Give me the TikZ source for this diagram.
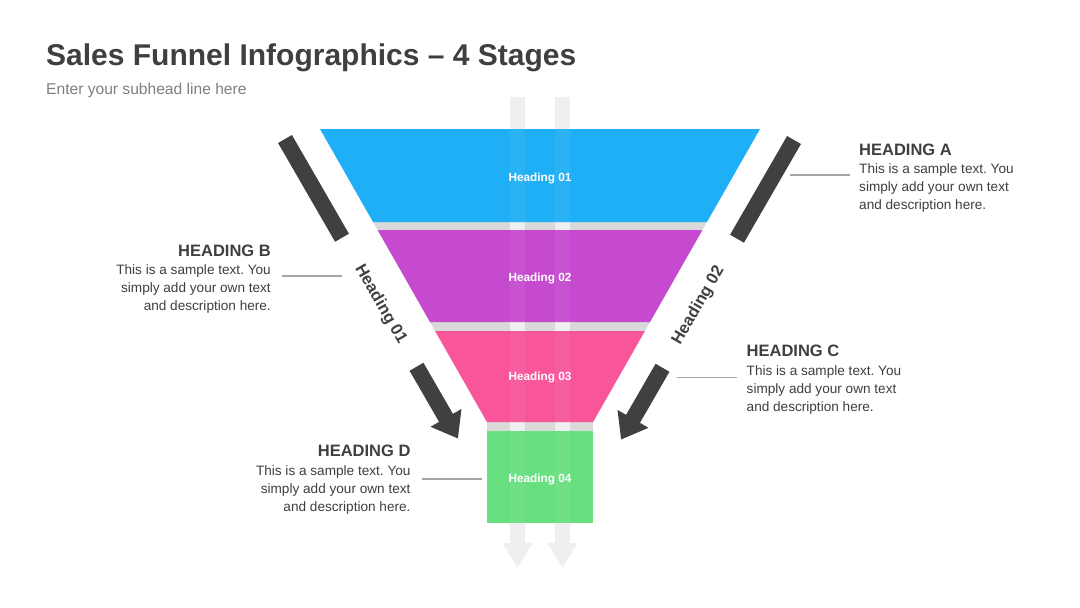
\documentclass[tikz,border=0pt]{standalone}
\usepackage{fontspec}
\setmainfont{Liberation Sans}
\usetikzlibrary{positioning,calc,arrows.meta}
\frenchspacing

\definecolor{stageone}{HTML}{1FAFF6}
\definecolor{stagetwo}{HTML}{C64ACF}
\definecolor{stagethree}{HTML}{F8559A}
\definecolor{stagefour}{HTML}{69E080}
\definecolor{gapgray}{HTML}{D9D9D9}
\definecolor{pipegray}{HTML}{EFEFEF}
\definecolor{darkbar}{HTML}{404040}
\definecolor{darktxt}{HTML}{3F3F3F}
\definecolor{subgray}{HTML}{7F7F7F}
\definecolor{guidegray}{HTML}{A6A6A6}

\begin{document}
\begin{tikzpicture}[x=1pt,y=-1pt,
    headtxt/.style={inner sep=0pt, text=darktxt, font=\fontsize{16.5}{20}\selectfont\bfseries},
    bodytxt/.style={inner sep=0pt, text=darktxt, font=\fontsize{13.6}{18}\selectfont},
    bandlbl/.style={text=white, font=\fontsize{11.8}{14}\selectfont\bfseries},
    sidelbl/.style={text=darkbar, font=\fontsize{16.5}{20}\selectfont\bfseries},
    guide/.style={draw=guidegray, line width=1.2pt},
    bar/.style={draw=darkbar, line width=16pt},
    pipe/.style={draw=pipegray, line width=15pt, -{Triangle[length=25pt 0 0, width=28pt 0 0]}}]
    \useasboundingbox (0,0) rectangle (1080,608);
    \fill[white] (0,0) rectangle (1080,608);

    % gaps between the stages
    \fill[gapgray] (373,222) -- (707,222) -- (593,422) -- (593,431) -- (487,431) -- (487,422) -- cycle;

    % pipes behind the funnel
    \coordinate (p1top) at (517.5,97);
    \coordinate (p1tip) at (517.5,568);
    \coordinate (p2top) at (562.5,97);
    \coordinate (p2tip) at (562.5,568);
    \draw[pipe] (p1top) -- (p1tip);
    \draw[pipe] (p2top) -- (p2tip);

    % stages
    \fill[stageone] (320,129) -- (760,129) -- (707,222) -- (373,222) -- cycle;
    \fill[stagetwo] (377.6,230) -- (702.4,230) -- (650,322) -- (430,322) -- cycle;
    \fill[stagethree] (435.1,331) -- (644.9,331) -- (593,422) -- (487,422) -- cycle;
    \fill[stagefour] (487,431) rectangle (593,523);
    \fill[pipegray, opacity=0.06] (510,129) rectangle (525,523);
    \fill[pipegray, opacity=0.06] (555,129) rectangle (570,523);

    \node[bandlbl] (s1) at (540,178.5) {Heading 01};
    \node[bandlbl] (s2) at (540,278.5) {Heading 02};
    \node[bandlbl] (s3) at (540,377.5) {Heading 03};
    \node[bandlbl] (s4) at (540,479.5) {Heading 04};

    % left side
    \coordinate (L0) at (285,139);
    \draw[bar] (L0) -- ($(L0)+(60:114)$);
    \node[sidelbl, rotate=-60] (sL) at ($(L0)+(60:191)$) {Heading 01};
    \coordinate (L1) at ($(L0)+(60:263)$);
    \coordinate (L2) at ($(L0)+(60:346)$);
    \draw[bar, -{Triangle[length=24pt 0 0, width=34pt 0 0]}] (L1) -- (L2);

    % right side
    \coordinate (R0) at (794,140);
    \draw[bar] (R0) -- ($(R0)+(120:114)$);
    \node[sidelbl, rotate=60] (sR) at ($(R0)+(120:191)$) {Heading 02};
    \coordinate (R1) at ($(R0)+(120:263)$);
    \coordinate (R2) at ($(R0)+(120:346)$);
    \draw[bar, -{Triangle[length=24pt 0 0, width=34pt 0 0]}] (R1) -- (R2);

    % title
    \node[anchor=base west, inner sep=0pt, text=darktxt, font=\fontsize{30}{36}\selectfont\bfseries] (title) at (46,65) {Sales Funnel Infographics – 4 Stages};
    \node[anchor=base west, inner sep=0pt, text=subgray, font=\fontsize{15.6}{19}\selectfont] (sub) at (46,94) {Enter your subhead line here};

    % text blocks
    \node[headtxt, anchor=base west] (hA) at (859,155) {HEADING A};
    \node[bodytxt, align=left, below=8.5pt of hA.base west, anchor=north west] (tA) {This is a sample text. You\\simply add your own text\\and description here.};
    \node[headtxt, anchor=base east] (hB) at (271,256) {HEADING B};
    \node[bodytxt, align=right, below=8.5pt of hB.base east, anchor=north east] (tB) {This is a sample text. You\\simply add your own text\\and description here.};
    \node[headtxt, anchor=base west] (hC) at (746.5,356.7) {HEADING C};
    \node[bodytxt, align=left, below=8.5pt of hC.base west, anchor=north west] (tC) {This is a sample text. You\\simply add your own text\\and description here.};
    \node[headtxt, anchor=base east] (hD) at (410.7,456.7) {HEADING D};
    \node[bodytxt, align=right, below=8.5pt of hD.base east, anchor=north east] (tD) {This is a sample text. You\\simply add your own text\\and description here.};

    % guide lines
    \coordinate (gA) at (790,175);
    \draw[guide] (gA) -- ([xshift=-9pt]gA -| tA.west);
    \coordinate (gB) at (341.7,276);
    \draw[guide] (gB) -- ([xshift=11pt]gB -| tB.east);
    \coordinate (gC) at (676.7,377.5);
    \draw[guide] (gC) -- ([xshift=-10pt]gC -| tC.west);
    \coordinate (gD) at (481.7,479);
    \draw[guide] (gD) -- ([xshift=11pt]gD -| tD.east);
\end{tikzpicture}
\end{document}
